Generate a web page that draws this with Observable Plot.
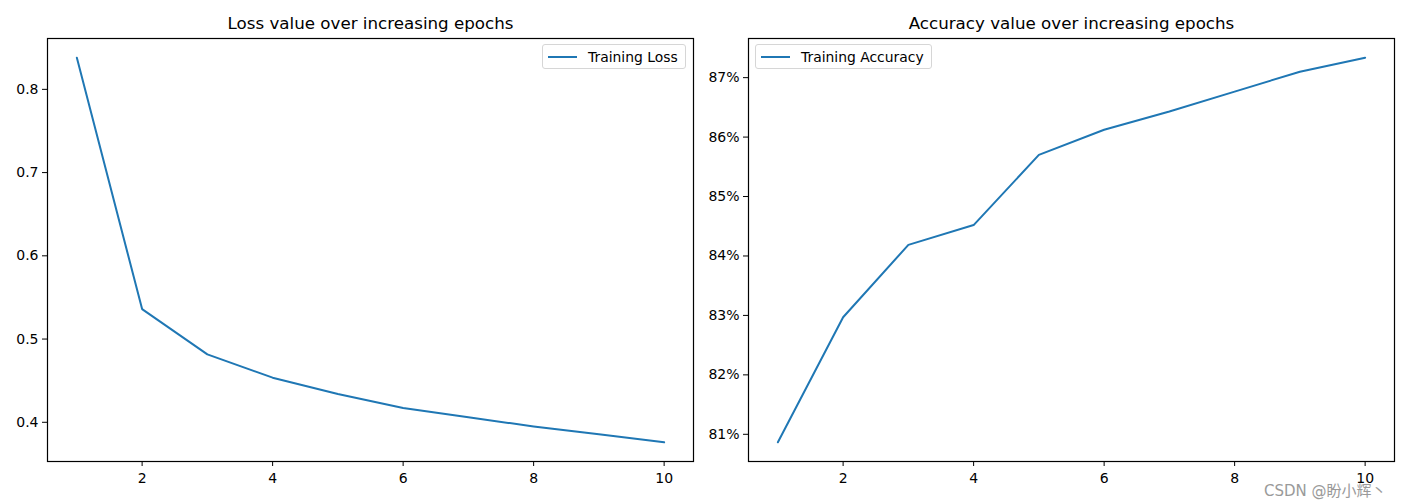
<!DOCTYPE html>
<html><head><meta charset="utf-8">
<script src="https://cdn.jsdelivr.net/npm/d3@7"></script>
<script src="https://cdn.jsdelivr.net/npm/@observablehq/plot@0.6"></script>
<style>
body{margin:0;background:#fff;font-family:"DejaVu Sans",sans-serif;}
#wrap{position:relative;width:1409px;height:500px;display:flex;overflow:hidden;}
.legend{position:absolute;top:44px;height:23px;border:1px solid #d6d6d6;border-radius:3px;background:rgba(255,255,255,0.8);display:flex;align-items:center;font-size:13.9px;color:#000;box-sizing:content-box;}
.legend .sw{display:inline-block;width:29px;height:2px;background:#1f77b4;margin:0 11px 0 5px;}
.legend .lb{padding-right:7px;white-space:nowrap;}
.wm{position:absolute;left:1264px;top:484px;font-size:15px;line-height:15px;color:#9a9a9a;font-family:"DejaVu Sans","Noto Sans CJK SC",sans-serif;white-space:nowrap;}
</style></head><body><div id="wrap"></div>
<script>
const epochs = [1, 2, 3, 4, 5, 6, 7, 8, 9, 10];
const lossValues = [0.838, 0.536, 0.4816, 0.4536, 0.434, 0.4172, 0.406, 0.395, 0.3856, 0.376];
const accuracyValues = [0.80866, 0.82969, 0.84187, 0.8452, 0.8570, 0.86124, 0.8643, 0.86765, 0.8710, 0.87335];
const xTicks = [2, 4, 6, 8, 10];
const lossTicks = [0.4, 0.5, 0.6, 0.7, 0.8];
const accTicks = [0.81, 0.82, 0.83, 0.84, 0.85, 0.86, 0.87];
const lossTitle = "Loss value over increasing epochs";
const accTitle = "Accuracy value over increasing epochs";
const lossLabel = "Training Loss";
const accLabel = "Training Accuracy";
const watermark = "CSDN @盼小辉丶";

function padded(vals) {
  const [a, b] = d3.extent(vals);
  const p = (b - a) * 0.05;
  return [a - p, b + p];
}

const wrap = document.getElementById("wrap");
const blue = "#1f77b4";

function makePlot(values, ticks, fmt, title, opts) {
  const data = epochs.map((e, i) => ({epoch: e, value: values[i]}));
  return Plot.plot({
    width: opts.width,
    height: 500,
    marginLeft: opts.ml,
    marginRight: opts.mr,
    marginTop: 38,
    marginBottom: 39,
    style: {fontFamily: "DejaVu Sans, sans-serif", fontSize: "14px", color: "#000", background: "#fff", overflow: "visible"},
    x: {domain: padded(epochs), label: null},
    y: {domain: padded(values), label: null},
    marks: [
      Plot.axisX({ticks: xTicks, tickSize: 5, tickPadding: 7, fontSize: 14, label: null, stroke: "#000"}),
      Plot.axisY({ticks: ticks, tickSize: 5, tickPadding: 4, fontSize: 14, label: null, tickFormat: fmt, stroke: "#000"}),
      Plot.line(data, {x: "epoch", y: "value", stroke: blue, strokeWidth: 2}),
      Plot.frame({stroke: "#000", strokeWidth: 1.2}),
      Plot.text([title], {frameAnchor: "top", lineAnchor: "middle", dy: -15, text: d => d, fontSize: 16.7, fill: "#000"})
    ]
  });
}

const left = makePlot(lossValues, lossTicks, d3.format(".1f"), lossTitle, {width: 704, ml: 47, mr: 11});
const right = makePlot(accuracyValues, accTicks, d3.format(".0%"), accTitle, {width: 705, ml: 44, mr: 15});
wrap.appendChild(left);
wrap.appendChild(right);

function legend(label, leftPx) {
  const d = document.createElement("div");
  d.className = "legend";
  d.style.left = leftPx + "px";
  d.innerHTML = `<span class="sw"></span><span class="lb">${label}</span>`;
  wrap.appendChild(d);
  return d;
}
const lg1 = legend(lossLabel, 0);
lg1.style.left = (686 - lg1.offsetWidth) + "px";
legend(accLabel, 755);

const wm = document.createElement("div");
wm.className = "wm";
wm.textContent = watermark;
wrap.appendChild(wm);
</script>
</body></html>
